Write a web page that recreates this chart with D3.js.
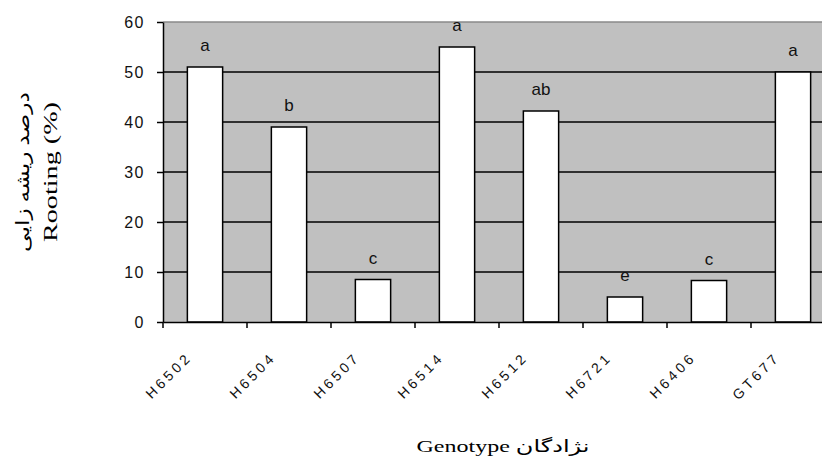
<!DOCTYPE html>
<html><head><meta charset="utf-8">
<script src="https://cdn.jsdelivr.net/npm/d3@7"></script>
<style>body{margin:0;background:#fff} svg{display:block}</style>
</head><body><svg id="c" width="822" height="464"></svg>
<script>
const categories = ["H6502","H6504","H6507","H6514","H6512","H6721","H6406","GT677"];
const rooting = [51, 39, 8.5, 55, 42.2, 5, 8.3, 50];
const letters = ["a","b","c","a","ab","e","c","a"];
const yTicks = [0,10,20,30,40,50,60];

const svg = d3.select("#c");
const pL=163, pT=22, pB=322, pR=835;
const x = d3.scaleBand().domain(categories).range([pL,pR]).paddingInner(0.58).paddingOuter(0.29);
const y = d3.scaleLinear().domain([0,60]).range([pB,pT]);

svg.append("rect").attr("x",pL).attr("y",pT).attr("width",pR-pL).attr("height",pB-pT).attr("fill","#c0c0c0");
svg.append("g").selectAll("line").data(yTicks.filter(d=>d>0 && d<60)).join("line")
  .attr("x1",pL).attr("x2",pR).attr("y1",d=>y(d)).attr("y2",d=>y(d))
  .attr("stroke","#000").attr("stroke-width",1.5);
svg.append("line").attr("x1",pL).attr("x2",pR).attr("y1",y(60)).attr("y2",y(60))
  .attr("stroke","#8a8a8a").attr("stroke-width",1.5);

svg.append("g").selectAll("rect").data(categories).join("rect")
  .attr("x",d=>x(d)).attr("y",(d,i)=>y(rooting[i]))
  .attr("width",x.bandwidth()).attr("height",(d,i)=>pB-y(rooting[i]))
  .attr("fill","#fff").attr("stroke","#000").attr("stroke-width",1.5);

svg.append("g").selectAll("text").data(categories).join("text")
  .attr("x",d=>x(d)+x.bandwidth()/2).attr("y",(d,i)=>y(rooting[i])-16)
  .attr("text-anchor","middle").attr("font-family","Liberation Sans, Arial, sans-serif")
  .attr("font-size",17).attr("fill","#111").text((d,i)=>letters[i]);

// Y axis
const ya = svg.append("g").attr("transform",`translate(${pL},0)`)
  .call(d3.axisLeft(y).tickValues(yTicks).tickSize(6).tickSizeOuter(0).tickPadding(12));
ya.select(".domain").attr("stroke","#000").attr("stroke-width",1.5);
ya.selectAll(".tick line").attr("stroke","#000").attr("stroke-width",1.5);
ya.selectAll(".tick text").attr("font-family","Liberation Sans, Arial, sans-serif")
  .attr("font-size",16).attr("letter-spacing","1.5px").attr("fill","#111");

// X axis
const xa = svg.append("g").attr("transform",`translate(0,${pB})`)
  .call(d3.axisBottom(x).tickSize(0).tickSizeOuter(0));
xa.select(".domain").attr("stroke","#000").attr("stroke-width",1.5);
xa.selectAll(".tick text").attr("x",0).attr("y",0).attr("dy",0)
  .attr("text-anchor","end").attr("transform","translate(-12,36) rotate(-45)")
  .attr("font-family","Liberation Sans, Arial, sans-serif").attr("font-size",14)
  .attr("letter-spacing","3.5px").attr("fill","#111");
const bounds = categories.map(d=>x(d)-x.step()*x.paddingInner()/2).concat([x(categories[categories.length-1])+x.bandwidth()+x.step()*x.paddingInner()/2]);
svg.append("g").selectAll("line").data(bounds).join("line")
  .attr("x1",d=>d).attr("x2",d=>d).attr("y1",pB).attr("y2",pB+6)
  .attr("stroke","#000").attr("stroke-width",1.5);

// Titles
const yt = svg.append("g").attr("transform","translate(0,172) rotate(-90)");
yt.append("text").attr("x",0).attr("y",29).attr("text-anchor","middle")
  .attr("font-family","Liberation Serif, Times New Roman, DejaVu Sans, serif").attr("font-size",18)
  .attr("textLength",160).attr("lengthAdjust","spacingAndGlyphs").text("درصد ریشه زایی");
yt.append("text").attr("x",0).attr("y",57).attr("text-anchor","middle")
  .attr("font-family","Liberation Serif, Times New Roman, serif").attr("font-size",19)
  .attr("textLength",140).attr("lengthAdjust","spacingAndGlyphs").text("Rooting (%)");

svg.append("text").attr("x",503).attr("y",452).attr("text-anchor","middle")
  .attr("font-family","Liberation Serif, Times New Roman, DejaVu Sans, serif").attr("font-size",17)
  .attr("textLength",173).attr("lengthAdjust","spacingAndGlyphs").text("Genotype نژادگان");
</script></body></html>
